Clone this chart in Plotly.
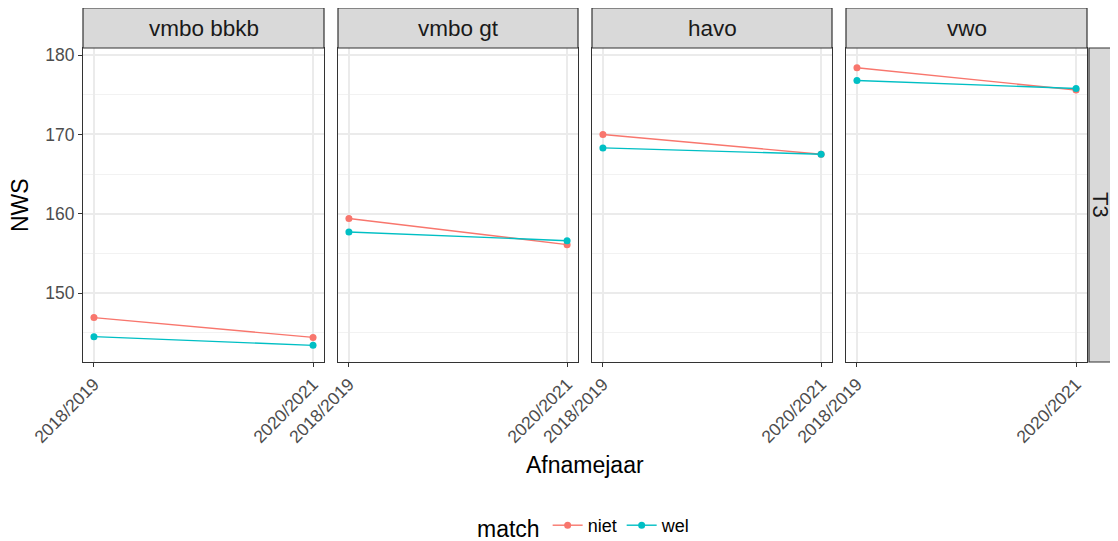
import plotly.graph_objects as go

# data
afnamejaar = ["2018/2019", "2020/2021"]
niveaus = ["vmbo bbkb", "vmbo gt", "havo", "vwo"]
niet = {
    "vmbo bbkb": [146.9, 144.4],
    "vmbo gt": [159.4, 156.1],
    "havo": [170.0, 167.5],
    "vwo": [178.4, 175.6],
}
wel = {
    "vmbo bbkb": [144.5, 143.4],
    "vmbo gt": [157.7, 156.6],
    "havo": [168.3, 167.5],
    "vwo": [176.8, 175.8],
}
kleuren = {"niet": "#F8766D", "wel": "#00BFC4"}

# de pagina heeft 8px body-marge: figuur kleiner maken en alles 8px terugschuiven
W, H = 1110, 533
L, T = 75, 40
pw, ph = 1004, 314
R = W - L - pw
B = H - T - ph

# paneelranden in pixels t.o.v. plotgebied
panel_px = [(0, 241), (255, 495), (509, 749), (763, 1004)]
RAND = "#333333"

fig = go.Figure()
lay = {}
for i, niv in enumerate(niveaus):
    n = "" if i == 0 else str(i + 1)
    for naam, reeks in (("niet", niet), ("wel", wel)):
        fig.add_trace(go.Scatter(
            x=afnamejaar, y=reeks[niv], mode="lines+markers",
            name=naam, legendgroup=naam, showlegend=(i == 0),
            line=dict(color=kleuren[naam], width=1.4),
            marker=dict(color=kleuren[naam], size=7),
            xaxis="x" + n, yaxis="y" + n,
        ))
    x0, x1 = panel_px[i]
    lay["xaxis" + n] = dict(
        domain=[x0 / pw, x1 / pw], anchor="y" + n, type="category",
        range=[-0.05, 1.05], tickangle=-45, automargin=False,
        showline=True, mirror=True, linecolor=RAND, linewidth=1.2,
        ticks="outside", ticklen=4, tickcolor=RAND,
        showgrid=True, gridcolor="#EBEBEB", gridwidth=1.5,
        tickfont=dict(size=17.5, color="#4D4D4D"), zeroline=False,
    )
    lay["yaxis" + n] = dict(
        domain=[0, 1], anchor="x" + n, range=[141.3, 180.9],
        dtick=10, showticklabels=(i == 0), automargin=False,
        ticks="outside" if i == 0 else "", ticklen=4, tickcolor=RAND,
        showline=True, mirror=True, linecolor=RAND, linewidth=1.2,
        showgrid=True, gridcolor="#EBEBEB", gridwidth=1.5,
        minor=dict(dtick=5, showgrid=True, gridcolor="#F2F2F2", gridwidth=0.8),
        tickfont=dict(size=17.5, color="#4D4D4D"), zeroline=False,
    )
    if i > 0:
        lay["yaxis" + n]["matches"] = "y"
    # strip boven elk paneel
    fig.add_shape(type="rect", xref="paper", yref="paper",
                  x0=x0 / pw, x1=x1 / pw, y0=1.0, y1=1 + 40 / ph,
                  fillcolor="#D9D9D9", line=dict(color=RAND, width=1.2))
    fig.add_annotation(text=niv, xref="paper", yref="paper",
                       x=(x0 + x1) / 2 / pw, y=1 + 20 / ph,
                       xanchor="center", yanchor="middle", showarrow=False,
                       font=dict(size=22.5, color="#1A1A1A"))

# strip rechts (T3)
fig.add_shape(type="rect", xref="paper", yref="paper",
              x0=1006 / pw, x1=1045 / pw, y0=0, y1=1,
              fillcolor="#D9D9D9", line=dict(color=RAND, width=1.2))
fig.add_annotation(text="T3", xref="paper", yref="paper", x=1018 / pw, y=0.5,
                   xanchor="center", yanchor="middle", textangle=90,
                   showarrow=False, font=dict(size=22, color="#1A1A1A"))

fig.add_annotation(text="Afnamejaar", xref="paper", yref="paper",
                   x=0.5, y=-103 / ph, xanchor="center", yanchor="middle",
                   showarrow=False, font=dict(size=23, color="black"))
fig.add_annotation(text="NWS", xref="paper", yref="paper",
                   x=-63 / pw, y=0.5, xanchor="center", yanchor="middle",
                   textangle=-90, showarrow=False,
                   font=dict(size=23, color="black"))

fig.update_layout(
    **lay,
    width=W, height=H,
    margin=dict(l=L, r=R, t=T, b=B, autoexpand=False),
    plot_bgcolor="white", paper_bgcolor="white",
    font=dict(family="Liberation Sans, Arial, sans-serif"),
    legend=dict(orientation="h", x=0.5, xanchor="center",
                y=-165 / ph, yanchor="middle",
                title=dict(text="match", font=dict(size=23, color="black")),
                font=dict(size=18, color="black")),
)

fig.write_html("out.html")
